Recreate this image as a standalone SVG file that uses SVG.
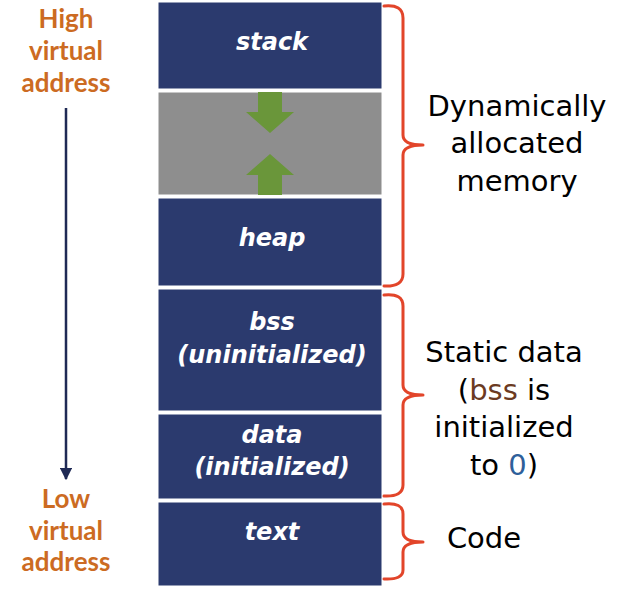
<svg xmlns="http://www.w3.org/2000/svg" width="625" height="594" viewBox="0 0 625 594">
<defs>
<style>
.seg{fill:#2B3A6E;stroke:#ffffff;stroke-width:1}
.lbl{font-family:"DejaVu Sans","Open Sans",sans-serif;font-style:oblique;font-weight:700;font-size:24px;fill:#ffffff;text-anchor:middle}
.addr{font-family:"Lato","Open Sans",sans-serif;font-weight:700;font-size:26px;fill:#CC6B22;text-anchor:middle}
.note{font-family:"DejaVu Sans","Open Sans",sans-serif;font-size:29px;fill:#000000;text-anchor:middle}
.brace{fill:none;stroke:#E2452A;stroke-width:3;stroke-linejoin:round;stroke-linecap:round}
.grn{fill:#6A963A}
</style>
<marker id="ah" viewBox="0 0 10 10" refX="9" refY="5" markerWidth="5" markerHeight="5" orient="auto">
<path d="M0,0 L10,5 L0,10 Z" fill="#1F2A55"/>
</marker>
</defs>
<rect width="625" height="594" fill="#ffffff"/>

<g id="stack"><rect class="seg" x="158" y="2" width="224" height="87"/><text class="lbl" x="272" y="50">stack</text></g>
<g id="gap"><rect x="158" y="92" width="224" height="103" fill="#8E8E8E" stroke="#ffffff" stroke-width="1"/>
<path class="grn" d="M258,92 H282 V112 H294 L270,133 L246,112 H258 Z"/>
<path class="grn" d="M258,195 H282 V175 H294 L270,154 L246,175 H258 Z"/></g>
<g id="heap"><rect class="seg" x="158" y="198" width="224" height="88"/><text class="lbl" x="272" y="246">heap</text></g>
<g id="bss"><rect class="seg" x="158" y="289" width="224" height="122"/><text class="lbl" x="272" y="330">bss</text><text class="lbl" x="272" y="363">(uninitialized)</text></g>
<g id="data"><rect class="seg" x="158" y="414" width="224" height="85"/><text class="lbl" x="272" y="443">data</text><text class="lbl" x="272" y="475">(initialized)</text></g>
<g id="text"><rect class="seg" x="158" y="502" width="224" height="84"/><text class="lbl" x="272" y="540">text</text></g>

<g id="high-label"><text class="addr" x="66" y="28">High</text><text class="addr" x="66" y="60">virtual</text><text class="addr" x="66" y="92">address</text></g>
<g id="low-label"><text class="addr" x="66" y="508">Low</text><text class="addr" x="66" y="540">virtual</text><text class="addr" x="66" y="571">address</text></g>

<g id="connectors">
<line x1="66" y1="108" x2="66" y2="479" stroke="#1F2A55" stroke-width="2.5" marker-end="url(#ah)"/>
<path class="brace" d="M384,6 Q403,4 403,18 V135 Q403,145 423,145 Q403,145 403,155 V274 Q403,287 384,286"/>
<path class="brace" d="M384,295 Q403,293 403,306 V385 Q403,395 423,395 Q403,395 403,405 V485 Q403,497 384,496"/>
<path class="brace" d="M384,504 Q403,502 403,514 V532 Q403,542 423,542 Q403,542 403,552 V570 Q403,580 384,579"/>
</g>

<g id="dyn-note"><text class="note" x="517" y="116">Dynamically</text><text class="note" x="517" y="153">allocated</text><text class="note" x="517" y="191">memory</text></g>
<g id="static-note"><text class="note" x="504" y="362">Static data</text><text class="note" x="504" y="400">(<tspan fill="#6B3A22">bss</tspan> is</text><text class="note" x="504" y="437">initialized</text><text class="note" x="504" y="475">to <tspan fill="#2F5F9A">0</tspan>)</text></g>
<g id="code-note"><text class="note" x="484" y="548">Code</text></g>
</svg>
